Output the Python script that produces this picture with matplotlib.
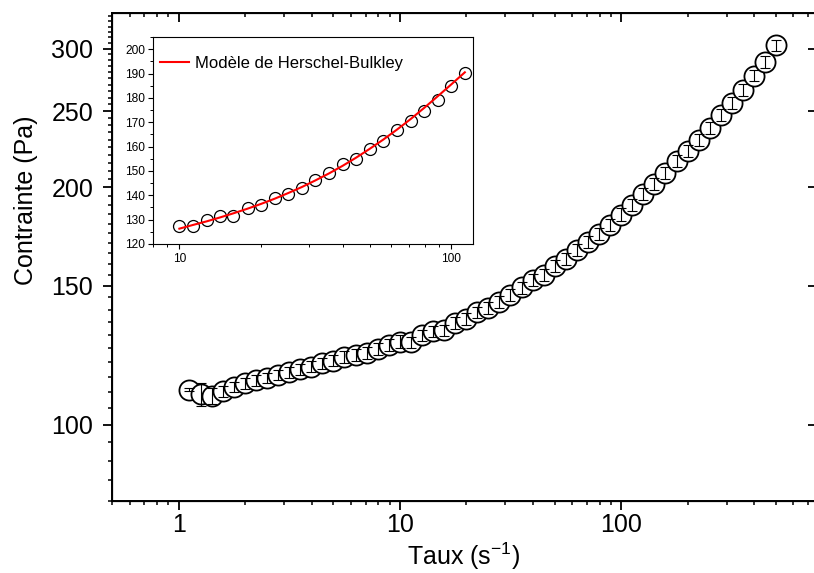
import numpy as np
import matplotlib
matplotlib.use("Agg")
import matplotlib.pyplot as plt
from matplotlib.ticker import FixedLocator, MultipleLocator, NullFormatter, StrMethodFormatter, LogLocator

plt.rcParams['font.family'] = ['Liberation Sans', 'DejaVu Sans']
plt.rcParams['mathtext.default'] = 'regular'
plt.rcParams['axes.unicode_minus'] = False

# shear rate (1/s) and stress (Pa)
taux = [1.12, 1.26, 1.41, 1.58, 1.78, 2.0, 2.24, 2.51, 2.82, 3.16,
        3.55, 3.98, 4.47, 5.01, 5.62, 6.31, 7.08, 7.94, 8.91, 10.0,
        11.2, 12.6, 14.1, 15.8, 17.8, 20.0, 22.4, 25.1, 28.2, 31.6,
        35.5, 39.8, 44.7, 50.1, 56.2, 63.1, 70.8, 79.4, 89.1, 100,
        112, 126, 141, 158, 178, 200, 224, 251, 282, 316,
        355, 398, 447, 501]
contrainte = [110.7, 109.3, 108.8, 110.2, 111.7, 112.8, 113.8, 114.6, 115.6, 116.6,
              117.5, 118.4, 119.6, 120.6, 121.9, 122.6, 123.4, 124.7, 126.2, 127.5,
              127.2, 129.8, 131.3, 131.7, 134.6, 136.1, 138.8, 140.7, 143.0, 146.1,
              149.3, 152.8, 155.0, 159.2, 162.3, 166.7, 170.7, 174.8, 179.3, 184.8,
              190.1, 196.2, 202.2, 208.6, 215.9, 222.7, 229.9, 238.0, 247.0, 256.1,
              265.7, 277.4, 288.8, 302.9]
erreur = [0.5, 3.6, 2.6, 1.7, 1.7, 1.7, 1.8, 1.8, 1.8, 1.9,
          1.9, 1.9, 2.0, 2.0, 2.0, 2.1, 2.1, 2.2, 2.2, 2.3,
          2.1, 2.2, 2.2, 2.2, 2.3, 2.3, 2.4, 2.4, 2.5, 2.5,
          2.6, 2.7, 2.7, 2.8, 2.9, 2.9, 3.0, 3.1, 3.2, 3.3,
          3.4, 3.5, 3.6, 3.7, 3.8, 3.9, 4.0, 4.2, 4.3, 4.5,
          4.6, 4.8, 5.0, 5.2]

# inset: points between 10 and 112 1/s, plus the red Herschel-Bulkley curve
inset_taux = taux[19:41]
inset_contrainte = contrainte[19:41]
hb_contrainte = [126.3, 127.8, 129.3, 130.9, 132.6, 134.5, 136.5, 138.6, 140.9, 143.4,
                 146.1, 149.0, 152.1, 155.5, 159.1, 162.9, 167.0, 171.3, 175.9, 180.7,
                 185.6, 190.5]

y_major = [100, 150, 200, 250, 300]

W, H = 814, 573
fig = plt.figure(figsize=(W / 100, H / 100), dpi=100)

ax = fig.add_axes([112 / W, 1 - 501 / H, 704 / W, 488 / H])
ax.set_xscale('log')
ax.set_yscale('log')
ax.set_xlim(0.5, 760)
ax.set_ylim(80, 333)

ax.plot(taux, contrainte, 'o', ms=14.5, mfc='white', mec='black', mew=1.3, zorder=2)
ax.errorbar(taux, contrainte, yerr=erreur, fmt='none', ecolor='black',
            elinewidth=0.8, capsize=3.4, capthick=0.8, zorder=3)

ax.xaxis.set_major_locator(LogLocator(base=10))
ax.xaxis.set_minor_locator(LogLocator(base=10, subs=np.arange(2, 10)))
ax.xaxis.set_major_formatter(StrMethodFormatter('{x:g}'))
ax.xaxis.set_minor_formatter(NullFormatter())
ax.yaxis.set_major_locator(FixedLocator(y_major))
ax.yaxis.set_minor_locator(MultipleLocator(5))
ax.yaxis.set_major_formatter(StrMethodFormatter('{x:.0f}'))
ax.yaxis.set_minor_formatter(NullFormatter())

ax.tick_params(which='major', direction='out', length=6.5, width=1.3, labelsize=18)
ax.tick_params(which='minor', direction='out', length=3, width=1.1)
ax.tick_params(axis='x', which='major', pad=2)
ax.tick_params(axis='y', which='major', pad=7)
for s in ax.spines.values():
    s.set_linewidth(1.4)

ax.set_xlabel('Taux (s$^{-1}$)', fontsize=18, labelpad=3)
ax.set_ylabel('Contrainte (Pa)', fontsize=18)
ax.yaxis.set_label_coords(-0.105, 0.617)

# top ticks pointing in
axt = ax.twiny()
axt.set_xscale('log')
axt.set_xlim(ax.get_xlim())
axt.xaxis.set_major_locator(LogLocator(base=10))
axt.xaxis.set_minor_locator(LogLocator(base=10, subs=np.arange(2, 10)))
axt.tick_params(which='major', direction='in', length=6.5, width=1.3, labeltop=False)
axt.tick_params(which='minor', direction='in', length=3, width=1.1, labeltop=False)

# right ticks pointing in, majors only
axr = ax.twinx()
axr.set_yscale('log')
axr.set_ylim(ax.get_ylim())
axr.yaxis.set_major_locator(FixedLocator(y_major))
axr.yaxis.set_minor_locator(FixedLocator([]))
axr.tick_params(which='major', direction='in', length=6, width=1.3, labelright=False)

# inset
ins = fig.add_axes([153 / W, 1 - 244 / H, 320 / W, 207 / H])
ins.set_zorder(10)
ins.set_xscale('log')
ins.set_xlim(8, 120)
ins.set_ylim(120, 205)
ins.plot(inset_taux, inset_contrainte, 'o', ms=8.6, mfc='none', mec='black', mew=0.9)
ins.plot(inset_taux, hb_contrainte, '-', color='red', lw=1.5,
         label='Modèle de Herschel-Bulkley')
ins.xaxis.set_major_locator(LogLocator(base=10))
ins.xaxis.set_minor_locator(LogLocator(base=10, subs=np.arange(2, 10)))
ins.xaxis.set_major_formatter(StrMethodFormatter('{x:g}'))
ins.xaxis.set_minor_formatter(NullFormatter())
ins.yaxis.set_major_locator(MultipleLocator(10))
ins.yaxis.set_minor_locator(MultipleLocator(5))
ins.tick_params(which='major', direction='out', length=3.5, width=0.8, labelsize=8.6, pad=2)
ins.tick_params(which='minor', direction='out', length=2, width=0.7)
ins.tick_params(axis='x', which='major', pad=3)
for s in ins.spines.values():
    s.set_linewidth(0.8)
ins.legend(loc='center left', bbox_to_anchor=(0.022, 0.874), frameon=False,
           fontsize=12, handlelength=1.75, handletextpad=0.35, borderpad=0,
           borderaxespad=0)

fig.savefig('out.png', dpi=100)
